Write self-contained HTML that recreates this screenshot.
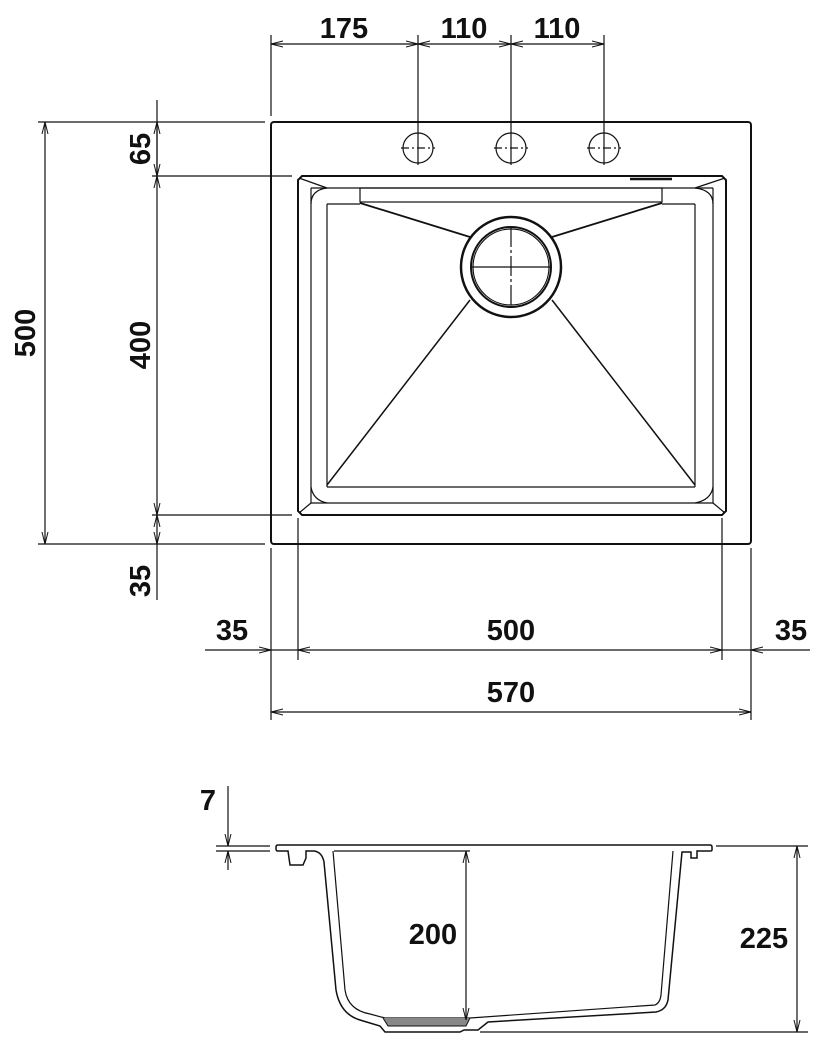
<!DOCTYPE html>
<html><head><meta charset="utf-8"><style>
html,body{margin:0;padding:0;background:#fff;}
svg{display:block;}
text{font-family:"Liberation Sans",sans-serif;font-weight:bold;font-size:29px;fill:#111;}
</style></head><body>
<svg width="832" height="1048" viewBox="0 0 832 1048" xmlns="http://www.w3.org/2000/svg">
<defs>
<marker id="a" markerWidth="12" markerHeight="8" refX="12" refY="4" orient="auto-start-reverse" markerUnits="userSpaceOnUse"><path d="M0,1 L12,4 L0,7" fill="none" stroke="#111" stroke-width="1"/></marker>
</defs>
<g stroke="#111" fill="none" stroke-width="1.2">
<!-- outer -->
<rect x="271" y="122" width="480" height="422" rx="3" stroke-width="2"/>
<!-- bowl -->
<path d="M302,176 H722 L726,180 V511 L722,515 H302 L298,511 V180 Z" stroke-width="2"/>
<line x1="311" y1="188" x2="713" y2="188"/>
<line x1="327" y1="204" x2="360" y2="204"/><line x1="662" y1="204" x2="695" y2="204"/>
<line x1="311" y1="188" x2="311" y2="503"/><line x1="327" y1="204" x2="327" y2="487"/>
<line x1="713" y1="188" x2="713" y2="503"/><line x1="695" y1="204" x2="695" y2="487"/>
<line x1="311" y1="503" x2="713" y2="503"/><line x1="327" y1="487" x2="695" y2="487"/>
<path d="M299,178 L327,188 M311,204 Q311,190 327,188"/>
<path d="M725,178 L695,188 M713,204 Q713,190 695,188"/>
<path d="M299,513 L311,503 M327,503 Q313,500 311,487"/>
<path d="M725,513 L713,503 M695,503 Q711,500 713,487"/>
<rect x="360" y="188" width="302" height="14"/>
<line x1="630" y1="179" x2="672" y2="179" stroke-width="2.5"/>
<path d="M360,203 L470,237 M662,203 L552,237" stroke-width="1.8"/>
<path d="M470,300 L327,485 M552,300 L695,485" stroke-width="1.5"/>
<circle cx="511" cy="267" r="50" stroke-width="2.5"/>
<circle cx="511" cy="267" r="40" stroke-width="2"/>
<circle cx="511" cy="267" r="38"/>
<line x1="471" y1="267" x2="551" y2="267"/><line x1="511" y1="227" x2="511" y2="307" stroke-dasharray="20,3,3,3"/>
<!-- holes -->
<g>
<circle cx="418" cy="148" r="15"/><circle cx="511" cy="148" r="15"/><circle cx="604" cy="148" r="15"/>
<path d="M401,148 H435 M494,148 H528 M587,148 H621" stroke-dasharray="8,3,2,3"/>
</g>
<!-- top dims -->
<line x1="271" y1="35" x2="271" y2="116"/>
<line x1="418" y1="35" x2="418" y2="165"/>
<line x1="511" y1="35" x2="511" y2="165"/>
<line x1="604" y1="35" x2="604" y2="165"/>
<line x1="271" y1="44" x2="418" y2="44" marker-start="url(#a)" marker-end="url(#a)"/>
<line x1="418" y1="44" x2="511" y2="44" marker-start="url(#a)" marker-end="url(#a)"/>
<line x1="511" y1="44" x2="604" y2="44" marker-start="url(#a)" marker-end="url(#a)"/>
<!-- left dims -->
<line x1="38" y1="122" x2="265" y2="122"/>
<line x1="38" y1="544" x2="265" y2="544"/>
<line x1="152" y1="176" x2="292" y2="176"/>
<line x1="152" y1="515" x2="292" y2="515"/>
<line x1="45" y1="122" x2="45" y2="544" marker-start="url(#a)" marker-end="url(#a)"/>
<line x1="157" y1="100" x2="157" y2="176" marker-end="url(#a)"/>
<line x1="157" y1="122" x2="157" y2="176" marker-start="url(#a)"/>
<line x1="157" y1="176" x2="157" y2="515" marker-start="url(#a)" marker-end="url(#a)"/>
<line x1="157" y1="515" x2="157" y2="544" marker-start="url(#a)" marker-end="url(#a)"/>
<line x1="157" y1="544" x2="157" y2="600"/>
<!-- bottom dims -->
<line x1="271" y1="548" x2="271" y2="720"/>
<line x1="751" y1="548" x2="751" y2="720"/>
<line x1="298" y1="518" x2="298" y2="660"/>
<line x1="722" y1="518" x2="722" y2="660"/>
<line x1="205" y1="650" x2="271" y2="650" marker-end="url(#a)"/>
<line x1="271" y1="650" x2="298" y2="650"/>
<line x1="298" y1="650" x2="722" y2="650" marker-start="url(#a)" marker-end="url(#a)"/>
<line x1="722" y1="650" x2="751" y2="650"/>
<line x1="810" y1="650" x2="751" y2="650" marker-end="url(#a)"/>
<line x1="271" y1="712" x2="751" y2="712" marker-start="url(#a)" marker-end="url(#a)"/>
<!-- side view -->
<path d="M278,845 H710 Q712,845 712,847 V850 Q712,851 710,851 H697 V858 H691 V852 L682,852 L668,1000 Q666,1010 656,1012 L488,1022 L478,1030 H464 L460,1032 H385 L380,1026 L360,1020 Q340,1014 336,990 L324,862 Q322,852 314,851 H306 V858 L303,865 H290 L288,851 H278 Q276,851 276,849 V847 Q276,845 278,845 Z" stroke-width="1.5"/>
<path d="M333,851 L345,990 Q348,1010 370,1014 L385,1018 H470 L655,1005 Q660,1003 661,995 L673,851"/>
<path d="M383,1018 L388,1026 H466 L470,1018" fill="#888" stroke-width="1"/>
<line x1="334" y1="851" x2="470" y2="851"/>
<!-- side dims -->
<line x1="216" y1="846" x2="270" y2="846"/><line x1="216" y1="851" x2="270" y2="851"/>
<line x1="228" y1="786" x2="228" y2="846" marker-end="url(#a)"/>
<line x1="228" y1="870" x2="228" y2="851" marker-end="url(#a)"/>
<line x1="466" y1="851" x2="466" y2="1020" marker-start="url(#a)" marker-end="url(#a)"/>
<line x1="716" y1="846" x2="808" y2="846"/>
<line x1="480" y1="1032" x2="808" y2="1032"/>
<line x1="797" y1="846" x2="797" y2="1032" marker-start="url(#a)" marker-end="url(#a)"/>
</g>
<text x="344" y="38" text-anchor="middle">175</text>
<text x="464" y="38" text-anchor="middle">110</text>
<text x="557" y="38" text-anchor="middle">110</text>
<text transform="translate(35,333) rotate(-90)" text-anchor="middle">500</text>
<text transform="translate(150,149) rotate(-90)" text-anchor="middle">65</text>
<text transform="translate(150,345) rotate(-90)" text-anchor="middle">400</text>
<text transform="translate(150,581) rotate(-90)" text-anchor="middle">35</text>
<text x="232" y="640" text-anchor="middle">35</text>
<text x="511" y="640" text-anchor="middle">500</text>
<text x="791" y="640" text-anchor="middle">35</text>
<text x="511" y="702" text-anchor="middle">570</text>
<text x="208" y="810" text-anchor="middle">7</text>
<text x="433" y="944" text-anchor="middle">200</text>
<text x="764" y="948" text-anchor="middle">225</text>
</svg>
</body></html>
